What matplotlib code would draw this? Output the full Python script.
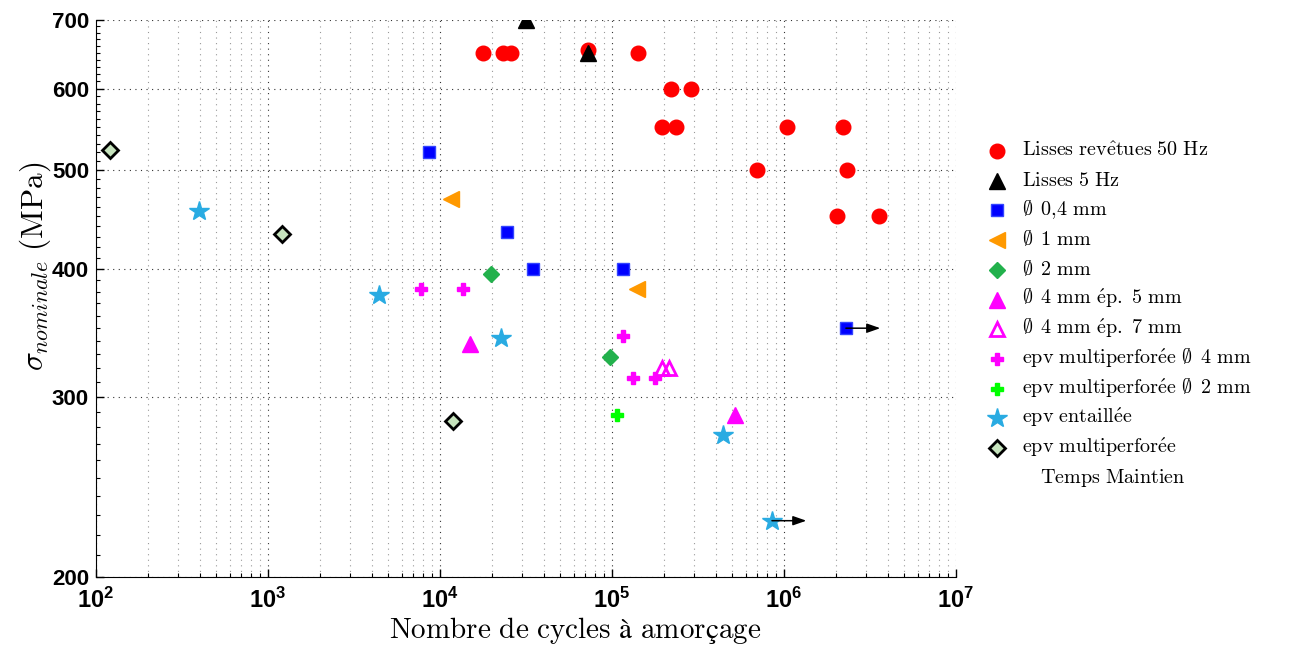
import matplotlib
matplotlib.use("Agg")
import matplotlib.pyplot as plt
import matplotlib.ticker as mticker
from matplotlib.lines import Line2D

# ---- données (cycles, contrainte MPa) ----
lisses50_N = [17800, 23200, 25900, 72400, 141000, 220000, 288000, 195000, 236000,
              697000, 1040000, 2200000, 2320000, 2030000, 3570000]
lisses50_S = [650, 650, 650, 655, 650, 600, 600, 550, 550, 500, 550, 550, 500, 450, 450]

lisses5_N = [31600, 72400]
lisses5_S = [700, 650]

d04_N = [8630, 24500, 34800, 116000, 2290000]
d04_S = [520, 435, 400, 400, 350]

d1_N = [11600, 140000]
d1_S = [468, 382]

d2_N = [19800, 97300]
d2_S = [395, 328]

d4e5_N = [14900, 519000]
d4e5_S = [338, 288]

d4e7_N = [195000, 214000]
d4e7_S = [320, 320]

mp4_N = [7770, 13600, 116000, 132000, 178000]
mp4_S = [382, 382, 344, 313, 313]

mp2_N = [107000]
mp2_S = [288]

entaille_N = [397, 4420, 22600, 442000, 851000]
entaille_S = [456, 377, 342, 275, 227]

maintien_N = [121, 1205, 11900]
maintien_S = [522, 433, 284]

# essais non rompus (flèche)
runout_N = [2290000, 851000]
runout_S = [350, 227]

xtick_vals = [1e2, 1e3, 1e4, 1e5, 1e6, 1e7]
xtick_labels = [r'$\mathbf{10^{%d}}$' % e for e in range(2, 8)]
ytick_vals = [200, 300, 400, 500, 600, 700]


def cm(s):
    # texte façon LaTeX (Computer Modern) via mathtext
    s = (s.replace(',', '{,}').replace('.', '{.}').replace(' ', r'\ ')
         .replace('é', r'\acute{e}').replace('ê', r'\hat{e}')
         .replace('Ø', r'\emptyset\,'))
    return r'$\mathrm{' + s + '}$'


plt.rcParams['mathtext.fontset'] = 'cm'
plt.rcParams['mathtext.rm'] = 'Liberation Sans:bold'
plt.rcParams['mathtext.bf'] = 'Liberation Sans:bold'

W, H = 1290, 646
fig = plt.figure(figsize=(W / 100, H / 100), dpi=100)
ax = fig.add_axes([96 / W, 1 - 577 / H, 860 / W, 557 / H])
ax.set_xscale('log')
ax.set_yscale('log')
ax.set_xlim(1e2, 1e7)
ax.set_ylim(200, 700)

series = [
    (lisses50_N, lisses50_S, dict(marker='o', color='#ff0000', ms=10.5, mec='#ff0000'),
     'Lisses revêtues 50 Hz'),
    (lisses5_N, lisses5_S, dict(marker='^', color='black', ms=11, mec='black'),
     'Lisses 5 Hz'),
    (d04_N, d04_S, dict(marker='s', color='#0000ff', ms=8, mec='#3344ff'),
     'Ø 0,4 mm'),
    (d1_N, d1_S, dict(marker='<', color='#ff9900', ms=11, mec='#ff9900'),
     'Ø 1 mm'),
    (d2_N, d2_S, dict(marker='D', color='#22b14c', ms=8, mec='#22b14c'),
     'Ø 2 mm'),
    (d4e5_N, d4e5_S, dict(marker='^', color='#ff00ff', ms=11, mec='#ff00ff'),
     'Ø 4 mm ép. 5 mm'),
    (d4e7_N, d4e7_S, dict(marker='^', color='none', ms=10, mec='#ff00ff', mew=2),
     'Ø 4 mm ép. 7 mm'),
    (mp4_N, mp4_S, dict(marker='P', color='#ff00ff', ms=9, mec='#ff00ff'),
     'epv multiperforée Ø 4 mm'),
    (mp2_N, mp2_S, dict(marker='P', color='#00ff00', ms=9, mec='#00ff00'),
     'epv multiperforée Ø 2 mm'),
    (entaille_N, entaille_S, dict(marker='*', color='#29abe2', ms=15, mec='#29abe2'),
     'epv entaillée'),
    (maintien_N, maintien_S, dict(marker='D', color='#c6e3bd', ms=8, mec='black', mew=2),
     'epv multiperforée'),
]

for xs, ys, st, lab in series:
    ax.plot(xs, ys, linestyle='none', zorder=3, **st)

for n, s in zip(runout_N, runout_S):
    ax.annotate('', xy=(n * 10 ** 0.2, s), xytext=(n, s), zorder=4,
                arrowprops=dict(arrowstyle='-|>,head_length=0.8,head_width=0.28',
                                color='black', lw=1.1, shrinkA=0, shrinkB=0))

ax.xaxis.set_major_locator(mticker.FixedLocator(xtick_vals))
ax.xaxis.set_minor_locator(mticker.LogLocator(base=10, subs=range(2, 10), numticks=20))
ax.xaxis.set_minor_formatter(mticker.NullFormatter())
ax.set_xticks(xtick_vals)
ax.set_xticklabels(xtick_labels)
ax.yaxis.set_major_locator(mticker.FixedLocator(ytick_vals))
ax.yaxis.set_minor_locator(mticker.MultipleLocator(10))
ax.yaxis.set_minor_formatter(mticker.NullFormatter())
ax.set_yticks(ytick_vals)
ax.set_yticklabels([str(v) for v in ytick_vals])

for t in ax.get_xticklabels():
    t.set_math_fontfamily('custom')
    t.set_fontsize(17)
for t in ax.get_yticklabels():
    t.set_fontfamily('Liberation Sans')
    t.set_fontweight('bold')
    t.set_fontsize(16)

ax.tick_params(which='major', direction='in', length=6, width=1, pad=5)
ax.tick_params(which='minor', direction='in', length=3, width=0.8)
ax.tick_params(axis='x', which='major', pad=8)

ax.grid(which='major', axis='both', linestyle=(0, (1, 4)), linewidth=0.8, color='#333333')
ax.grid(which='minor', axis='x', linestyle=(0, (1, 4)), linewidth=0.8, color='#999999')
ax.spines['top'].set_visible(False)
ax.spines['right'].set_visible(False)
ax.set_axisbelow(True)

fig.text(575 / W, 1 - 631 / H, cm('Nombre de cycles à amorçage'),
         ha='center', va='center', fontsize=21)
fig.text(35 / W, 1 - 266 / H, r'$\sigma_{nominale}\ \mathrm{(MPa)}$',
         ha='center', va='center', rotation=90, fontsize=22.5)

# légende (sans cadre, lignes régulières)
row0, drow = 151, 29.7
for i, (xs, ys, st, lab) in enumerate(series):
    yy = 1 - (row0 + i * drow) / H
    fig.add_artist(Line2D([997 / W], [yy], transform=fig.transFigure,
                          linestyle='none', **st))
    fig.text(1022 / W, 1 - (row0 + i * drow + 5) / H, cm(lab),
             ha='left', va='baseline', fontsize=14.5)
fig.text(1040 / W, 1 - (row0 + len(series) * drow + 5) / H, cm('Temps Maintien'),
         ha='left', va='baseline', fontsize=14.5)

fig.savefig('out.png', dpi=100)
